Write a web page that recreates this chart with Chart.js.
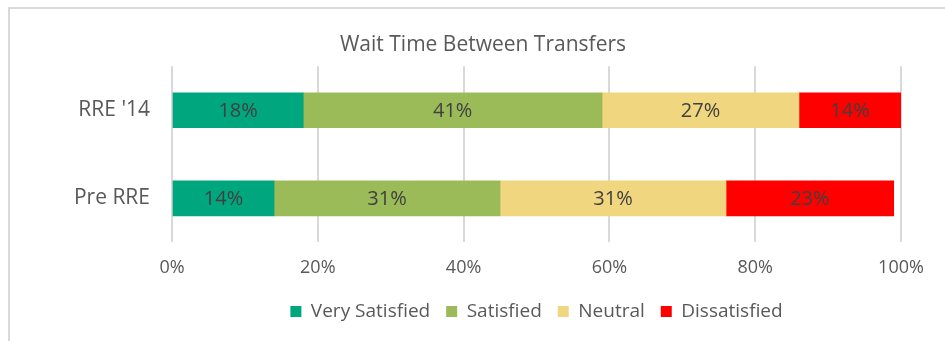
<!DOCTYPE html>
<html>
<head>
<meta charset="utf-8">
<script src="https://cdn.jsdelivr.net/npm/chart.js@4/dist/chart.umd.min.js"></script>
<style>
  html, body { margin: 0; padding: 0; background: #ffffff; }
  #wrap { position: relative; width: 945px; height: 341px; overflow: hidden; }
  #frame { position: absolute; left: 8px; top: 7px; width: 1000px; height: 400px;
           border-left: 2px solid #d9d9d9; border-top: 2px solid #d9d9d9; box-sizing: border-box; }
  canvas { position: absolute; left: 0; top: 0; }
</style>
</head>
<body>
<div id="wrap">
  <div id="frame"></div>
  <canvas id="chart" width="945" height="341"></canvas>
</div>
<script>
// Survey responses, share of riders per group (percent)
const groups = ["RRE '14", "Pre RRE"];
const verySatisfied = [18, 14];
const satisfied = [41, 31];
const neutral = [27, 31];
const dissatisfied = [14, 23];
const tickValues = [0, 20, 40, 60, 80, 100];

const FONT = "'Open Sans', 'Liberation Sans', sans-serif";

// Writes each segment's value in the middle of its bar piece
const segmentLabels = {
  id: 'segmentLabels',
  afterDatasetsDraw(chart) {
    const ctx = chart.ctx;
    ctx.save();
    ctx.font = "20px " + FONT;
    ctx.fillStyle = '#404040';
    ctx.textAlign = 'center';
    ctx.textBaseline = 'middle';
    chart.data.datasets.forEach((ds, di) => {
      const meta = chart.getDatasetMeta(di);
      meta.data.forEach((bar, i) => {
        const cx = (bar.x + bar.base) / 2;
        ctx.fillText(ds.data[i] + '%', cx, bar.y + 1);
      });
    });
    ctx.restore();
  }
};

// Pulls the legend row a little closer to the axis labels
const legendLift = {
  id: 'legendLift',
  afterLayout(chart) {
    const lg = chart.legend;
    if (lg) { lg.top -= 8; lg.bottom -= 8; }
  }
};

new Chart(document.getElementById('chart'), {
  type: 'bar',
  data: {
    labels: groups,
    datasets: [
      { label: 'Very Satisfied', data: verySatisfied, backgroundColor: '#00a67d' },
      { label: 'Satisfied', data: satisfied, backgroundColor: '#9bbb59' },
      { label: 'Neutral', data: neutral, backgroundColor: '#f0d67f' },
      { label: 'Dissatisfied', data: dissatisfied, backgroundColor: '#ff0000' }
    ].map(d => Object.assign(d, { barThickness: 35, borderWidth: 0 }))
  },
  options: {
    indexAxis: 'y',
    responsive: false,
    animation: false,
    layout: { padding: { left: 65, right: 44, top: 0, bottom: 2 } },
    plugins: {
      title: {
        display: true,
        text: 'Wait Time Between Transfers',
        color: '#595959',
        font: { family: FONT, size: 21, weight: 'normal' },
        padding: { top: 32, bottom: 9 }
      },
      legend: {
        position: 'bottom',
        fullSize: false,
        labels: {
          color: '#595959',
          font: { family: FONT, size: 19 },
          boxWidth: 11,
          boxHeight: 11,
          padding: 16
        }
      },
      tooltip: { enabled: false }
    },
    scales: {
      x: {
        stacked: true,
        min: 0,
        max: 100,
        afterBuildTicks(axis) { axis.ticks = tickValues.map(v => ({ value: v })); },
        ticks: {
          callback: v => v + '%',
          color: '#595959',
          font: { family: FONT, size: 18 },
          padding: 15
        },
        grid: { color: '#d9d9d9', lineWidth: 2, drawTicks: false },
        border: { display: false }
      },
      y: {
        stacked: true,
        afterFit(axis) { axis.width = 107; },
        ticks: {
          color: '#595959',
          font: { family: FONT, size: 21 },
          padding: 22
        },
        grid: { display: false, drawTicks: false },
        border: { display: false }
      }
    }
  },
  plugins: [segmentLabels, legendLift]
});
</script>
</body>
</html>
